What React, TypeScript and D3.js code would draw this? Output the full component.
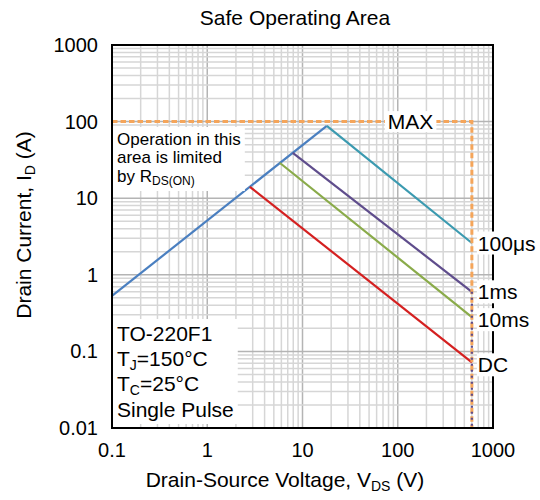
import { useRef, useEffect } from 'react';
import { select, scaleLog, line } from 'd3';

const W = 540;
const H = 500;
const MARGIN = { top: 45, right: 47, bottom: 72, left: 112 };
const FONT = '"Liberation Sans", Arial, Helvetica, sans-serif';

const xTicks = [0.1, 1, 10, 100, 1000];
const xTickLabels = ['0.1', '1', '10', '100', '1000'];
const yTicks = [0.01, 0.1, 1, 10, 100, 1000];
const yTickLabels = ['0.01', '0.1', '1', '10', '100', '1000'];

// on-resistance limited boundary
const rdsVoltage = [0.1, 18];
const rdsCurrent = [0.53, 88];

// pulse width lines, each starts on the Rds line and ends at the max voltage
const pulseLabels = ['100μs', '1ms', '10ms', 'DC'];
const pulseColors = ['#3b9ab0', '#5f4d8c', '#8aab4a', '#d42020'];
const pulseStartV = [18, 7.9, 5.8, 2.8];
const pulseStartI = [88, 39, 28.8, 14.1];
const pulseEndV = [600, 600, 600, 600];
const pulseEndI = [2.6, 0.6, 0.28, 0.072];

const maxCurrent = 100;
const maxVoltage = 600;

type Part = [string, boolean];

// appends normal / subscript tspans to a text element
function rich(text: any, parts: Part[], subSize: number, shift: number) {
  let down = false;
  parts.forEach(([s, sub]) => {
    const t = text.append('tspan').text(s);
    if (sub && !down) {
      t.attr('dy', shift).attr('font-size', subSize);
      down = true;
    } else if (!sub && down) {
      t.attr('dy', -shift);
      down = false;
    } else if (sub) {
      t.attr('font-size', subSize);
    }
  });
}

function boxBehind(g: any, padX: number, padY: number) {
  const b = (g.node() as SVGGElement).getBBox();
  g.insert('rect', ':first-child')
    .attr('x', b.x - padX)
    .attr('y', b.y - padY)
    .attr('width', b.width + 2 * padX)
    .attr('height', b.height + 2 * padY)
    .attr('fill', '#fff');
}

export default function App() {
  const svgRef = useRef<SVGSVGElement>(null);

  useEffect(() => {
    const svg = select(svgRef.current!);
    svg.selectAll('*').remove();

    const x = scaleLog().domain([0.1, 1000]).range([MARGIN.left, W - MARGIN.right]);
    const y = scaleLog().domain([0.01, 1000]).range([H - MARGIN.bottom, MARGIN.top]);
    const [x0, x1] = x.range();
    const [y0, y1] = y.range();
    const isMajor = (v: number) => Math.abs(Math.log10(v) - Math.round(Math.log10(v))) < 1e-6;

    svg.append('rect').attr('width', W).attr('height', H).attr('fill', '#fff');

    // grid
    const grid = svg.append('g').attr('stroke-width', 1.5);
    grid
      .selectAll('line.vx')
      .data(x.ticks())
      .enter()
      .append('line')
      .attr('x1', (d) => x(d))
      .attr('x2', (d) => x(d))
      .attr('y1', y0)
      .attr('y2', y1)
      .attr('stroke', (d) => (isMajor(d) ? '#b4b4b4' : '#d6d6d6'));
    grid
      .selectAll('line.hy')
      .data(y.ticks())
      .enter()
      .append('line')
      .attr('x1', x0)
      .attr('x2', x1)
      .attr('y1', (d) => y(d))
      .attr('y2', (d) => y(d))
      .attr('stroke', (d) => (isMajor(d) ? '#b4b4b4' : '#d6d6d6'));

    const path = line<[number, number]>()
      .x(([v]) => x(v))
      .y(([, i]) => y(i));

    // curves
    svg
      .append('path')
      .datum(rdsVoltage.map((v, i) => [v, rdsCurrent[i]] as [number, number]))
      .attr('fill', 'none')
      .attr('stroke', '#4a7fc0')
      .attr('stroke-width', 2.2)
      .attr('d', path);

    pulseLabels.forEach((_, k) => {
      svg
        .append('path')
        .datum([
          [pulseStartV[k], pulseStartI[k]],
          [pulseEndV[k], pulseEndI[k]],
        ] as [number, number][])
        .attr('fill', 'none')
        .attr('stroke', pulseColors[k])
        .attr('stroke-width', 2.2)
        .attr('d', path);
    });

    // max ratings
    svg
      .append('path')
      .datum([
        [0.1, maxCurrent],
        [maxVoltage, maxCurrent],
        [maxVoltage, 0.01],
      ] as [number, number][])
      .attr('fill', 'none')
      .attr('stroke', '#f5a55a')
      .attr('stroke-width', 3)
      .attr('stroke-dasharray', '5.5 3')
      .attr('d', path);
    svg
      .append('path')
      .datum([
        [maxVoltage, pulseEndI[1]],
        [maxVoltage, 0.01],
      ] as [number, number][])
      .attr('fill', 'none')
      .attr('stroke', '#5f4d8c')
      .attr('stroke-width', 2.2)
      .attr('stroke-dasharray', '2 4')
      .attr('d', path);

    // note boxes inside the plot
    const note = svg.append('g').attr('font-size', 17).attr('fill', '#000');
    note.append('text').attr('x', 117).attr('y', 145).text('Operation in this');
    note.append('text').attr('x', 117).attr('y', 163).text('area is limited');
    rich(
      note.append('text').attr('x', 117).attr('y', 182),
      [
        ['by R', false],
        ['DS(ON)', true],
      ],
      12,
      3,
    );
    boxBehind(note, 4, 3);

    const cond = svg.append('g').attr('font-size', 21).attr('fill', '#000');
    cond.append('text').attr('x', 117).attr('y', 341).text('TO-220F1');
    rich(
      cond.append('text').attr('x', 117).attr('y', 366),
      [
        ['T', false],
        ['J', true],
        ['=150°C', false],
      ],
      14,
      4,
    );
    rich(
      cond.append('text').attr('x', 117).attr('y', 391),
      [
        ['T', false],
        ['C', true],
        ['=25°C', false],
      ],
      14,
      4,
    );
    cond.append('text').attr('x', 117).attr('y', 417).text('Single Pulse');
    boxBehind(cond, 4, 3);

    // frame
    svg
      .append('rect')
      .attr('x', x0)
      .attr('y', y1)
      .attr('width', x1 - x0)
      .attr('height', y0 - y1)
      .attr('fill', 'none')
      .attr('stroke', '#000')
      .attr('stroke-width', 2);

    // line labels
    pulseLabels.forEach((lab, k) => {
      const g = svg.append('g');
      g.append('text')
        .attr('x', x(pulseEndV[k]) + 6)
        .attr('y', y(pulseEndI[k]) + (k > 1 ? 2.5 : 0))
        .attr('dominant-baseline', 'central')
        .attr('font-size', 21)
        .text(lab);
      boxBehind(g, 1, 0);
    });
    const maxG = svg.append('g');
    maxG
      .append('text')
      .attr('x', x(maxVoltage) - 84)
      .attr('y', y(maxCurrent))
      .attr('dominant-baseline', 'central')
      .attr('font-size', 21)
      .text('MAX');
    boxBehind(maxG, 3, -1);

    // axes
    svg
      .append('g')
      .selectAll('text')
      .data(yTicks)
      .enter()
      .append('text')
      .attr('x', x0 - 14)
      .attr('y', (d) => y(d))
      .attr('text-anchor', 'end')
      .attr('dominant-baseline', 'central')
      .attr('font-size', 20)
      .text((_, i) => yTickLabels[i]);
    svg
      .append('g')
      .selectAll('text')
      .data(xTicks)
      .enter()
      .append('text')
      .attr('x', (d) => x(d))
      .attr('y', y0 + 29)
      .attr('text-anchor', 'middle')
      .attr('font-size', 20)
      .text((_, i) => xTickLabels[i]);

    svg
      .append('text')
      .attr('x', 295)
      .attr('y', 25)
      .attr('text-anchor', 'middle')
      .attr('font-size', 21)
      .text('Safe Operating Area');

    rich(
      svg.append('text').attr('x', 285).attr('y', 487).attr('text-anchor', 'middle').attr('font-size', 21),
      [
        ['Drain-Source Voltage, V', false],
        ['DS', true],
        [' (V)', false],
      ],
      14,
      4,
    );
    rich(
      svg
        .append('text')
        .attr('transform', 'translate(31, 225) rotate(-90)')
        .attr('text-anchor', 'middle')
        .attr('font-size', 21),
      [
        ['Drain Current, I', false],
        ['D', true],
        [' (A)', false],
      ],
      14,
      4,
    );
  }, []);

  return (
    <div style={{ position: 'absolute', left: 0, top: 0 }}>
      <svg ref={svgRef} width={W} height={H} style={{ display: 'block', fontFamily: FONT }} />
    </div>
  );
}
